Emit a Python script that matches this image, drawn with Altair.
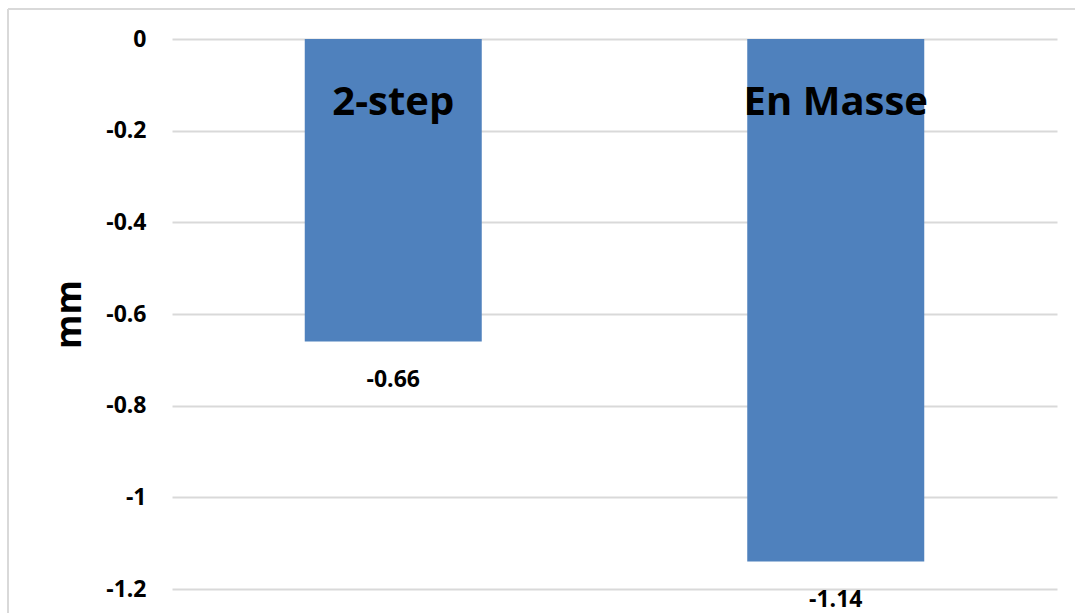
import altair as alt
import pandas as pd

categories = ["2-step", "En Masse"]
values = [-0.66, -1.14]
value_labels = ["-0.66", "-1.14"]
tick_values = [0, -0.2, -0.4, -0.6, -0.8, -1, -1.2]

df = pd.DataFrame({"cat": categories, "val": values, "lab": value_labels})

FONT = "Open Sans"
BLUE = "#4F81BD"
GRID = "#d9d9d9"

x_enc = alt.X("cat:N", sort=categories, axis=None,
              scale=alt.Scale(paddingInner=0.6, paddingOuter=0.3))

base = alt.Chart(df)

bars = base.mark_bar(color=BLUE).encode(
    x=x_enc,
    y=alt.Y("val:Q",
            scale=alt.Scale(domain=[-1.2, 0], nice=False, zero=False),
            axis=alt.Axis(values=tick_values, title="mm", grid=True,
                          gridColor=GRID, gridWidth=2, domain=False,
                          ticks=False, labelPadding=26,
                          labelFont=FONT, labelFontSize=23,
                          labelFontWeight="bold", labelColor="#000000",
                          titleFont=FONT, titleFontSize=35,
                          titleFontWeight="bold", titleColor="#000000",
                          titlePadding=18,
                          labelExpr="'' + datum.value")),
    y2=alt.datum(0),
)

cat_text = base.mark_text(font=FONT, fontSize=40, fontWeight="bold",
                          color="#000000", baseline="middle").encode(
    x=x_enc,
    y=alt.value(64),
    text="cat:N",
)

val_text = base.mark_text(font=FONT, fontSize=23, fontWeight="bold",
                          color="#000000", baseline="middle", dy=38).encode(
    x=x_enc,
    y="val:Q",
    text="lab:N",
)

frame_left = alt.Chart(df).mark_rule(color=GRID, strokeWidth=2).encode(
    x=alt.value(-164), y=alt.value(-30), y2=alt.value(600))
frame_top = alt.Chart(df).mark_rule(color=GRID, strokeWidth=2).encode(
    x=alt.value(-164), x2=alt.value(920), y=alt.value(-30))

chart = alt.layer(bars, cat_text, val_text, frame_left, frame_top).properties(
    width=885, height=550,
    autosize=alt.AutoSizeParams(type="none"),
    padding={"left": 172, "top": 39, "right": 18, "bottom": 24},
    background="#ffffff",
).configure_view(stroke=None)

chart.save("out.html", embed_options={"renderer": "svg", "actions": False})
